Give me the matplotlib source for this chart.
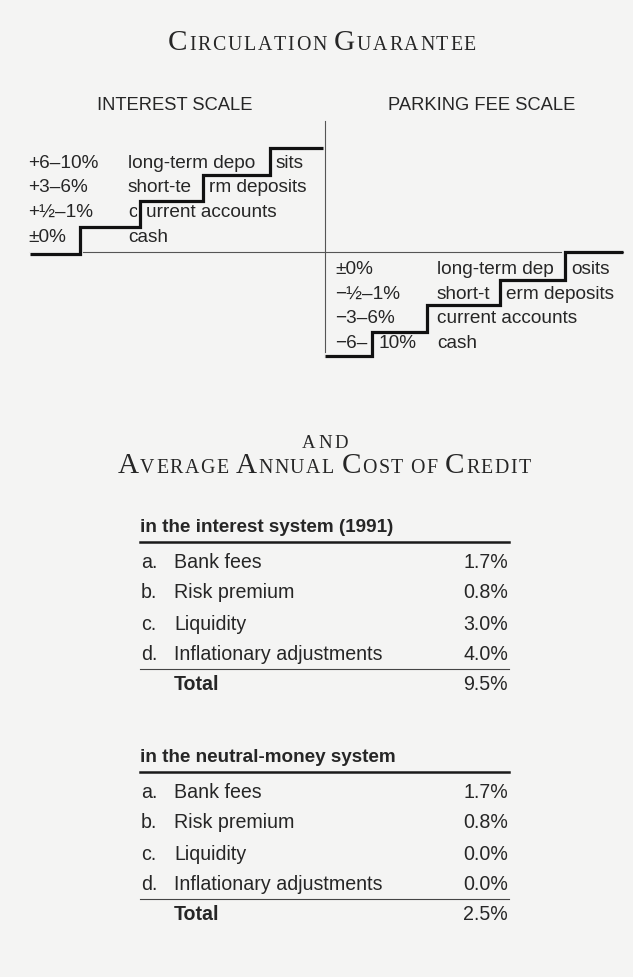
import matplotlib
matplotlib.use("Agg")
import matplotlib.pyplot as plt
import matplotlib.patheffects as pe

# ---- data ----
account_types = ["long-term deposits", "short-term deposits", "current accounts", "cash"]
interest_rates = ["+6–10%", "+3–6%", "+½–1%", "±0%"]
parking_fees = ["±0%", "−½–1%", "−3–6%", "−6–10%"]

cost_letters = ["a.", "b.", "c.", "d."]
cost_items = ["Bank fees", "Risk premium", "Liquidity", "Inflationary adjustments"]
interest_costs = [1.7, 0.8, 3.0, 4.0]
neutral_costs = [1.7, 0.8, 0.0, 0.0]

bg = '#f4f4f3'
ink = '#262626'
sans = ['Liberation Sans', 'DejaVu Sans']
serif = ['Liberation Serif', 'DejaVu Serif']

fig = plt.figure(figsize=(6.33, 9.78), dpi=100)
fig.patch.set_facecolor(bg)
ax = fig.add_axes([0, 0, 1, 1])
ax.set_xlim(0, 633)
ax.set_ylim(978, 0)
ax.axis('off')
renderer = fig.canvas.get_renderer()


def small_caps(text, xc, y, big, small, track):
    # fake small caps: capitals big, lower case as smaller capitals, letter by letter
    items, total = [], 0
    for ch in text:
        if ch == ' ':
            items.append((None, 0.3 * small * 100 / 72))
        else:
            size = big if ch.isupper() else small
            t = ax.text(0, y, ch.upper(), fontsize=size, family=serif, color=ink,
                        ha='left', va='baseline')
            items.append((t, t.get_window_extent(renderer).width + track))
        total += items[-1][1]
    x = xc - (total - track) / 2
    for t, w in items:
        if t is not None:
            t.set_x(x)
        x += w


small_caps("Circulation Guarantee", 322, 50, 21, 14.3, 1.7)
small_caps("and", 325, 448, 13.5, 13.5, 2.5)
small_caps("Average Annual Cost of Credit", 324, 473, 21, 14.3, 1.5)

ax.text(175, 106, "INTEREST SCALE", fontsize=13.2, family=sans, color=ink, ha='center', va='center')
ax.text(482, 106, "PARKING FEE SCALE", fontsize=13.2, family=sans, color=ink, ha='center', va='center')

# divider and baseline
ax.plot([325, 325], [122, 358], color='#555555', lw=0.8)
ax.plot([30, 623], [253, 253], color='#555555', lw=0.8)

# stair corners (layout)
lx = [30, 80, 140, 203, 270, 323]
ly = [255, 228, 202, 175.5, 149]
rx = [623, 565, 500, 427, 372, 325]
ry = [253, 281, 306, 333, 357]

fs_st = 13.7


def split_text(s, x0, y, cut, step_x):
    # text broken where the stair line passes through it
    if cut is None:
        ax.text(x0, y, s, fontsize=fs_st, family=sans, color=ink, ha='left', va='center')
        return
    ax.text(x0, y, s[:cut], fontsize=fs_st, family=sans, color=ink, ha='left', va='center')
    ax.text(step_x + 6, y, s[cut:], fontsize=fs_st, family=sans, color=ink, ha='left', va='center')


# interest scale rows
left_cuts = [(14, lx[4]), (8, lx[3]), (1, lx[2]), (None, None)]
for i, (rate, acc) in enumerate(zip(interest_rates, account_types)):
    y = 163 + 24.7 * i
    ax.text(28, y, rate, fontsize=fs_st, family=sans, color=ink, ha='left', va='center')
    split_text(acc, 128, y, *left_cuts[i])

# parking fee rows
right_cuts = [(13, rx[1]), (7, rx[2]), (None, None), (None, None)]
fee_cuts = [(None, None), (None, None), (None, None), (3, rx[4])]
for i, (fee, acc) in enumerate(zip(parking_fees, account_types)):
    y = 270 + 24.4 * i
    split_text(fee, 335, y, *fee_cuts[i])
    split_text(acc, 437, y, *right_cuts[i])

stair_fx = [pe.Stroke(linewidth=4.2, foreground=bg), pe.Normal()]


def stair(xb, yb):
    xs, ys = [xb[0]], [yb[0]]
    for k in range(len(yb)):
        xs += [xb[k + 1]]
        ys += [yb[k]]
        if k + 1 < len(yb):
            xs += [xb[k + 1]]
            ys += [yb[k + 1]]
    ax.plot(xs, ys, color='#111111', lw=2.3, solid_joinstyle='miter',
            solid_capstyle='butt', path_effects=stair_fx, zorder=5)


stair(lx, ly)   # rises from cash up to long-term deposits
stair(rx, ry)   # falls from long-term deposits down to cash


def cost_table(title, values, top):
    fs = 14.1
    ax.text(140, top, title, fontsize=13.6, family=sans, weight='bold', color=ink, ha='left', va='center')
    ax.plot([140, 509], [top + 16, top + 16], color='#1a1a1a', lw=1.8)
    for i, (let, item, v) in enumerate(zip(cost_letters, cost_items, values)):
        y = top + 35 + 31 * i
        ax.text(141, y, let, fontsize=fs, family=sans, color=ink, ha='left', va='center')
        ax.text(174, y, item, fontsize=fs, family=sans, color=ink, ha='left', va='center')
        ax.text(508, y, f"{v:.1f}%", fontsize=fs, family=sans, color=ink, ha='right', va='center')
    ax.plot([140, 509], [top + 143, top + 143], color='#444444', lw=0.8)
    ax.text(174, top + 158, "Total", fontsize=fs, family=sans, weight='bold', color=ink, ha='left', va='center')
    ax.text(508, top + 158, f"{sum(values):.1f}%", fontsize=fs, family=sans, color=ink, ha='right', va='center')


cost_table("in the interest system (1991)", interest_costs, 527)
cost_table("in the neutral-money system", neutral_costs, 757)

fig.savefig("out.png", dpi=100, facecolor=bg)
